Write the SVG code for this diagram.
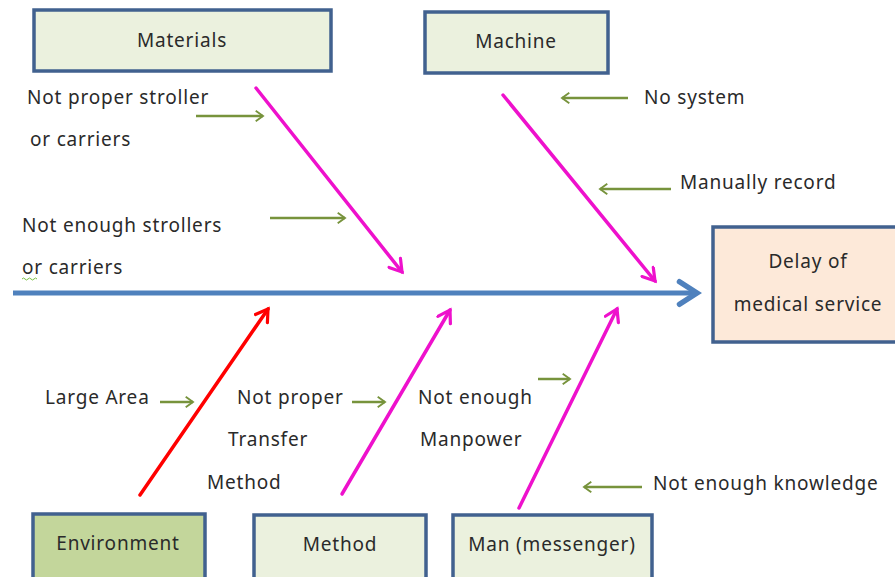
<svg xmlns="http://www.w3.org/2000/svg" width="895" height="577" viewBox="0 0 895 577">
<style>
.box{stroke:#41618f;stroke-width:3.5}
.t{font-family:"Noto Sans","DejaVu Sans",sans-serif;font-size:19px;fill:#2a2a2a;letter-spacing:0.8px}
.c{text-anchor:middle}
.bone{stroke:#ee11cc;stroke-width:3.5;fill:none;stroke-linecap:round}
.red{stroke:#ff0000;stroke-width:3.5;fill:none;stroke-linecap:round}
.g{stroke:#77933c;stroke-width:2.5;fill:none}
</style>
<defs>
<marker id="am" viewBox="0 0 12 12" refX="10" refY="6" markerWidth="5" markerHeight="5" orient="auto" markerUnits="strokeWidth">
<path d="M2,1 L10,6 L2,11" fill="none" stroke="#ee11cc" stroke-width="2.2" stroke-linecap="round"/>
</marker>
<marker id="ar" viewBox="0 0 12 12" refX="10" refY="6" markerWidth="5" markerHeight="5" orient="auto" markerUnits="strokeWidth">
<path d="M2,1 L10,6 L2,11" fill="none" stroke="#ff0000" stroke-width="2.2" stroke-linecap="round"/>
</marker>
<marker id="ab" viewBox="0 0 12 12" refX="10" refY="6" markerWidth="6" markerHeight="6" orient="auto" markerUnits="strokeWidth">
<path d="M3,1.5 L10,6 L3,10.5" fill="none" stroke="#4f81bd" stroke-width="2.2" stroke-linecap="round"/>
</marker>
<marker id="ag" viewBox="0 0 12 12" refX="10" refY="6" markerWidth="5" markerHeight="5" orient="auto" markerUnits="strokeWidth">
<path d="M3,1 L10,6 L3,11" fill="none" stroke="#77933c" stroke-width="1.8"/>
</marker>
</defs>
<rect width="895" height="577" fill="#ffffff"/>
<g id="connectors">
<line x1="13" y1="293" x2="697" y2="293" stroke="#4f81bd" stroke-width="5" marker-end="url(#ab)"/>
<line class="bone" x1="256" y1="88" x2="402" y2="272" marker-end="url(#am)"/>
<line class="bone" x1="503" y1="95" x2="655" y2="281" marker-end="url(#am)"/>
<line class="red" x1="140" y1="495" x2="268" y2="309" marker-end="url(#ar)"/>
<line class="bone" x1="342" y1="494" x2="450" y2="310" marker-end="url(#am)"/>
<line class="bone" x1="519" y1="508" x2="617" y2="309" marker-end="url(#am)"/>
<line class="g" x1="196" y1="116" x2="263" y2="116" marker-end="url(#ag)"/>
<line class="g" x1="270" y1="218" x2="345" y2="218" marker-end="url(#ag)"/>
<line class="g" x1="628" y1="98" x2="562" y2="98" marker-end="url(#ag)"/>
<line class="g" x1="671" y1="189" x2="600" y2="189" marker-end="url(#ag)"/>
<line class="g" x1="160" y1="402" x2="193" y2="402" marker-end="url(#ag)"/>
<line class="g" x1="352" y1="402" x2="385" y2="402" marker-end="url(#ag)"/>
<line class="g" x1="538" y1="379" x2="570" y2="379" marker-end="url(#ag)"/>
<line class="g" x1="642" y1="487" x2="584" y2="487" marker-end="url(#ag)"/>
</g>
<g id="materials"><rect class="box" x="34" y="10" width="297" height="61" fill="#ebf1de"/><text class="t c" x="182" y="47">Materials</text></g>
<g id="machine"><rect class="box" x="425" y="12" width="183" height="61" fill="#ebf1de"/><text class="t c" x="516" y="48">Machine</text></g>
<g id="delay"><rect class="box" x="713" y="227" width="190" height="115" fill="#fde9d9"/><text class="t c" x="808" y="268">Delay of</text><text class="t c" x="808" y="311">medical service</text></g>
<g id="environment"><rect class="box" x="33" y="514" width="172" height="66" fill="#c3d69b"/><text class="t c" x="118" y="550">Environment</text></g>
<g id="method"><rect class="box" x="254" y="515" width="172" height="66" fill="#ebf1de"/><text class="t c" x="340" y="551">Method</text></g>
<g id="man"><rect class="box" x="453" y="515" width="199" height="66" fill="#ebf1de"/><text class="t c" x="552" y="551">Man (messenger)</text></g>
<g id="labels">
<text class="t" x="27" y="104">Not proper stroller</text>
<text class="t" x="30" y="146">or carriers</text>
<text class="t" x="22" y="232">Not enough strollers</text>
<text class="t" x="22" y="274">or carriers</text>
<path d="M22,279 q1.5,-2 3,0 t3,0 t3,0 t3,0 t3,0" fill="none" stroke="#7ac142" stroke-width="1"/>
<text class="t" x="644" y="104">No system</text>
<text class="t" x="680" y="189">Manually record</text>
<text class="t" x="45" y="404">Large Area</text>
<text class="t" x="237" y="404">Not proper</text>
<text class="t" x="228" y="446">Transfer</text>
<text class="t" x="207" y="489">Method</text>
<text class="t" x="418" y="404">Not enough</text>
<text class="t" x="420" y="446">Manpower</text>
<text class="t" x="653" y="490">Not enough knowledge</text>
</g>
</svg>
